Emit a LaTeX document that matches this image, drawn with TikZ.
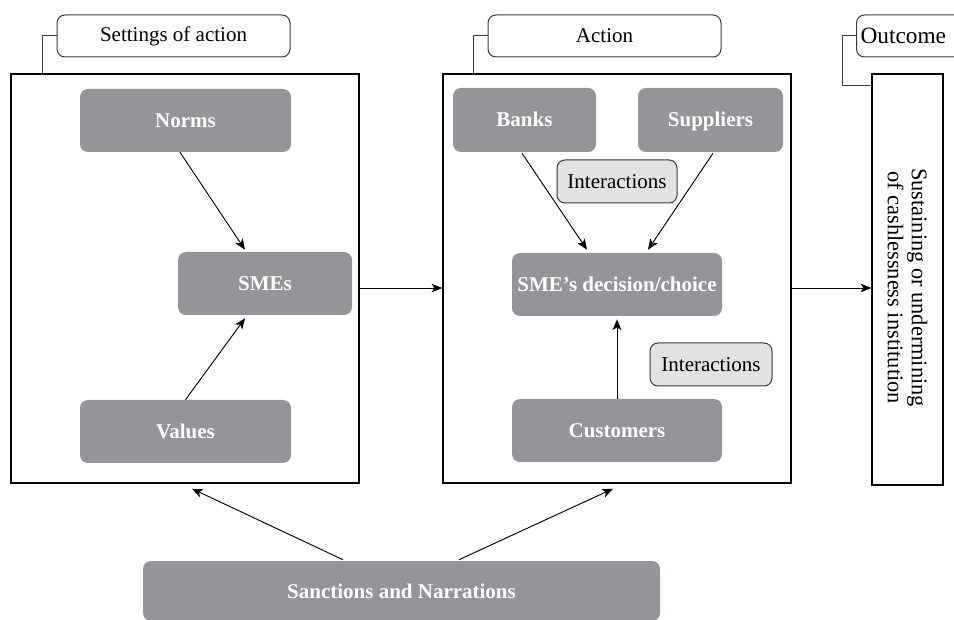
\documentclass[tikz,border=0pt]{standalone}
\usepackage{fontspec}
\setmainfont{Liberation Serif}
\usetikzlibrary{arrows.meta,calc}
\definecolor{boxgray}{HTML}{939598}
\definecolor{ltgray}{HTML}{E1E2E3}
\definecolor{linegray}{HTML}{3A3A3A}
\begin{document}
\begin{tikzpicture}[x=0.75pt,y=-0.75pt,
  sz/.style 2 args={minimum width=#1*0.75pt, minimum height=#2*0.75pt},
  txt/.style={font=\fontsize{15.75}{18}\selectfont},
  frame/.style={draw=black, line width=1.1pt, inner sep=0pt, fill=white},
  gbox/.style={fill=boxgray, rounded corners=6pt, inner sep=0pt, text=white, text height=14pt, text depth=3.5pt, font=\fontsize{15.75}{19}\selectfont\bfseries},
  tabbox/.style={draw=linegray, line width=0.75pt, rounded corners=6pt, fill=white, inner sep=0pt, txt},
  ibox/.style={draw=linegray, fill=ltgray, line width=0.75pt, rounded corners=6pt, inner sep=0pt, txt},
  conn/.style={draw=linegray, line width=0.75pt},
  arr/.style={draw=black, line width=0.7pt, -{Stealth[length=8pt,width=6.5pt,inset=2pt]}}
]
\useasboundingbox (0,0) rectangle (954,620);
\clip (0,0) rectangle (954,620);

% frames
\node[frame, sz={348}{409}] (leftframe) at (185,278.5) {};
\node[frame, sz={348}{409}] (midframe) at (617,278.5) {};
\node[frame, sz={71}{411}] (outframe) at (907.5,279.5) {};
\node[font=\fontsize{16.8}{18}\selectfont, rotate=-90, align=center] (outtext) at ($(outframe.center)+(0,8)$) {Sustaining or undermining\\of cashlessness institution};

% tabs
\node[tabbox, sz={233}{42}] (settab) at (173.5,36) {Settings of action};
\node[tabbox, sz={233}{42}] (acttab) at (604.5,36) {Action};
\node[tabbox, font=\fontsize{17.5}{20}\selectfont, anchor=west, minimum height=31.5pt, text width=106.5pt, inner xsep=3pt, align=left] (outtab) at (856,36) {Outcome};

\draw[conn] (settab.west) -| ($(leftframe.north west)+(32,0)$);
\draw[conn] (acttab.west) -| ($(midframe.north west)+(31,0)$);
\draw[conn] (outtab.west) -| ($(outframe.north west)+(-29,12)$) -- ($(outframe.north west)+(0,12)$);

% left frame content
\node[gbox, sz={211}{63}] (norms) at (185.5,120.5) {Norms};
\node[gbox, sz={174}{63}] (smes) at (265,283.5) {SMEs};
\node[gbox, sz={211}{63}] (values) at (185.5,431.5) {Values};
\draw[arr] ($(norms.south)+(-5.5,0)$) -- ($(smes.north)+(-20,-2)$);
\draw[arr] (values.north) -- ($(smes.south)+(-20,3)$);

% middle frame content
\node[gbox, sz={143}{64}] (banks) at (524.5,120) {Banks};
\node[gbox, sz={145}{64}] (suppliers) at (710.5,120) {Suppliers};
\node[ibox, sz={120}{43}] (inter1) at (617,181.5) {Interactions};
\node[gbox, sz={210}{63}] (decision) at (617,284.5) {SME’s decision/choice};
\node[ibox, sz={122}{43}] (inter2) at (711,364.5) {Interactions};
\node[gbox, sz={210}{63}] (customers) at (617,430.5) {Customers};
\draw[arr] ($(banks.south)+(-2.5,1)$) -- ($(decision.north)+(-30,-3)$);
\draw[arr] ($(suppliers.south)+(2.5,1)$) -- ($(decision.north)+(31,-3)$);
\draw[arr] (customers.north) -- ($(decision.south)+(0,3)$);

% frame to frame
\draw[arr] ($(leftframe.east)+(0,9.5)$) -- ($(midframe.west)+(0,9.5)$);
\draw[arr] ($(midframe.east)+(0,9.5)$) -- ($(outframe.west)+(0,8.5)$);

% sanctions
\node[gbox, sz={517}{60}] (sanctions) at (401.5,591) {Sanctions and Narrations};
\draw[arr] ($(sanctions.north)+(-58.5,-1)$) -- ($(leftframe.south)+(7,5)$);
\draw[arr] ($(sanctions.north)+(57.5,-1)$) -- ($(midframe.south)+(-4,5)$);
\end{tikzpicture}
\end{document}
